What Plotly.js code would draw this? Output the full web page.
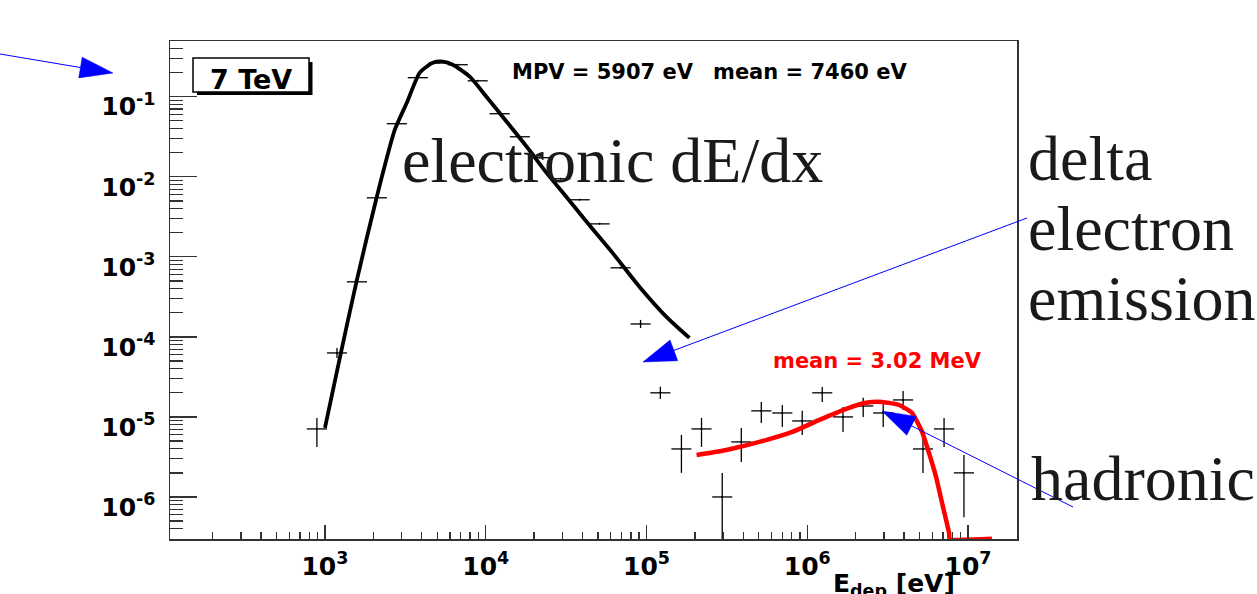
<!DOCTYPE html>
<html><head><meta charset="utf-8">
<script src="https://cdn.plot.ly/plotly-3.0.1.min.js"></script>
<style>html,body{margin:0;padding:0;background:#fff;} #chart{width:1257px;height:594px;}</style>
</head><body><div id="chart"></div>
<script>
// ---------- data ----------
const binCenters = [891, 1188, 1581, 2104, 2800, 3781, 5105, 6700, 8913, 12200, 16300, 21600, 29200, 38400, 51100, 69000, 91900, 122000, 165000, 220000, 296000, 389000, 518000, 700000, 931000, 1240000, 1670000, 2230000, 2970000, 3950000, 5250000, 7100000, 9440000];
const binCounts = [7.08e-6, 6.3e-5, 4.87e-4, 5.46e-3, 0.046, 0.173, 0.266, 0.251, 0.158, 0.0613, 0.0316, 0.0173, 9.44e-3, 5.16e-3, 2.58e-3, 7.29e-4, 1.45e-4, 2.0e-5, 3.98e-6, 7.08e-6, 1.0e-6, 4.87e-6, 1.19e-5, 1.12e-5, 8.9e-6, 2.0e-5, 1.0e-5, 1.37e-5, 1.12e-5, 1.63e-5, 3.98e-6, 7.08e-6, 2.0e-6];
const errUp = [2.63e-6, 9.8e-6, 4.4e-5, 0, 0, 0, 0, 0, 0, 0, 0, 0, 0, 0, 0, 0, 1.8e-5, 3.8e-6, 1.98e-6, 2.63e-6, 1.0e-6, 2.42e-6, 3.5e-6, 2.9e-6, 3.0e-6, 3.7e-6, 3.3e-6, 3.6e-6, 3.8e-6, 4.8e-6, 1.98e-6, 2.63e-6, 1.35e-6];
const errDown = [2.86e-6, 8.4e-6, 4.0e-5, 0, 0, 0, 0, 0, 0, 0, 0, 0, 0, 0, 0, 0, 1.6e-5, 3.2e-6, 1.98e-6, 2.86e-6, 0.99e-6, 2.13e-6, 3.5e-6, 3.7e-6, 2.94e-6, 4.6e-6, 3.5e-6, 3.7e-6, 3.7e-6, 4.1e-6, 1.98e-6, 2.86e-6, 1.44e-6];
const binWidthDecades = 0.125;

const landauX = [1000, 1240, 1580, 2100, 2720, 3230, 3890, 4690, 5410, 6240, 7960, 10100, 13500, 18000, 23900, 31800, 42400, 61500, 90600, 133000, 185000];
const landauY = [7.3e-6, 5.6e-5, 5.16e-4, 5.6e-3, 0.0387, 0.0841, 0.2, 0.266, 0.274, 0.251, 0.178, 0.1, 0.0487, 0.0237, 0.0112, 5.6e-3, 2.74e-3, 1.12e-3, 4.2e-4, 1.78e-4, 9.7e-5];

const hadX = [205000, 314000, 504000, 807000, 1190000, 1750000, 2320000, 2920000, 3730000, 4490000, 5180000, 5720000, 6330000, 6900000, 7630000, 7700000, 14100000];
const hadY = [3.35e-6, 3.87e-6, 4.87e-6, 6.49e-6, 9.17e-6, 1.26e-5, 1.5e-5, 1.54e-5, 1.41e-5, 1.12e-5, 6.49e-6, 3.55e-6, 1.78e-6, 8.4e-7, 3.55e-7, 3.0e-7, 3.0e-7];

const xTickVals = [1e3, 1e4, 1e5, 1e6, 1e7];
const xTickText = ['10<sup>3</sup>', '10<sup>4</sup>', '10<sup>5</sup>', '10<sup>6</sup>', '10<sup>7</sup>'];
const yTickVals = [1e-6, 1e-5, 1e-4, 1e-3, 1e-2, 1e-1];
const yTickText = ['10<sup>-6</sup>', '10<sup>-5</sup>', '10<sup>-4</sup>', '10<sup>-3</sup>', '10<sup>-2</sup>', '10<sup>-1</sup>'];

// ---------- helpers ----------
function minorTicks(lo, hi) {
  const out = [];
  for (let e = Math.floor(lo); e <= Math.ceil(hi); e++)
    for (let k = 2; k <= 9; k++) { const v = k * Math.pow(10, e); const l = Math.log10(v); if (l > lo && l < hi) out.push(v); }
  return out;
}
const XR = [2.036, 7.305], YR = [-6.525, -0.304];
const PL = 170, PR = 1017, PT = 41, PB = 539;
const px = p => (p - PL) / (PR - PL);
const py = p => (PB - p) / (PB - PT);

const f = Math.pow(10, binWidthDecades / 2);
const exPlus = binCenters.map(v => v * (f - 1));
const exMinus = binCenters.map(v => v * (1 - 1 / f));

const traces = [
  { x: binCenters, y: binCounts, type: 'scatter', mode: 'markers',
    marker: { size: 2, color: '#000' },
    error_x: { type: 'data', symmetric: false, array: exPlus, arrayminus: exMinus, color: '#000', thickness: 1.3, width: 0 },
    error_y: { type: 'data', symmetric: false, array: errUp, arrayminus: errDown, color: '#000', thickness: 1.3, width: 0 },
    hoverinfo: 'skip' },
  { x: landauX, y: landauY, type: 'scatter', mode: 'lines',
    line: { color: '#000', width: 3.8, shape: 'spline', smoothing: 0.6 }, hoverinfo: 'skip' },
  { x: hadX, y: hadY, type: 'scatter', mode: 'lines',
    line: { color: '#ff0000', width: 4.5, shape: 'spline', smoothing: 0.5 }, hoverinfo: 'skip' }
];

// arrows as shapes (pixel -> paper)
function arrowShapes(x0, y0, x1, y1, len, hw, col) {
  const dx = x1 - x0, dy = y1 - y0, d = Math.hypot(dx, dy), ux = dx / d, uy = dy / d;
  const bx = x1 - ux * len, by = y1 - uy * len, nx = -uy, ny = ux;
  const pts = [[x1, y1], [bx + nx * hw, by + ny * hw], [bx - nx * hw, by - ny * hw]];
  const path = 'M' + pts.map(p => px(p[0]).toFixed(5) + ',' + py(p[1]).toFixed(5)).join(' L') + ' Z';
  return [
    { type: 'line', xref: 'paper', yref: 'paper', x0: px(x0), y0: py(y0), x1: px(bx + ux * 2), y1: py(by + uy * 2), line: { color: col, width: 1 } },
    { type: 'path', xref: 'paper', yref: 'paper', path: path, fillcolor: col, line: { color: col, width: 0.5 } }
  ];
}
const blue = '#0000ff';
const shapes = [
  { type: 'rect', xref: 'paper', yref: 'paper', x0: px(197), x1: px(312.5), y0: py(62), y1: py(95), fillcolor: '#000', line: { width: 0 } },
  { type: 'rect', xref: 'paper', yref: 'paper', x0: px(193), x1: px(309), y0: py(58), y1: py(92), fillcolor: '#fff', line: { color: '#000', width: 1.5 } },
  ...arrowShapes(0, 54, 113, 73, 33, 10.5, blue),
  ...arrowShapes(1027, 218, 643, 362, 33, 11, blue),
  ...arrowShapes(1073, 507, 882, 411, 33, 10.5, blue)
];

const serif = { family: 'Liberation Serif, Times New Roman, serif', size: 64, color: '#1a1a1a' };
function ann(text, x, y, font, xanchor) {
  return { text: text, xref: 'paper', yref: 'paper', x: px(x), y: py(y), xanchor: xanchor || 'left', yanchor: 'middle', showarrow: false, font: font, borderpad: 0 };
}
const boldSans = (s, c) => ({ family: 'DejaVu Sans', size: s, weight: 'bold', color: c || '#000' });
const annotations = [
  ann('7 TeV', 251, 80, boldSans(27), 'center'),
  ann('MPV = 5907 eV', 511, 72, boldSans(21)),
  ann('mean = 7460 eV', 712, 72, boldSans(21)),
  ann('mean = 3.02 MeV', 772, 361, boldSans(21, '#ff0000')),
  ann('E<sub>dep</sub> [eV]', 832, 585, boldSans(25)),
  ann('electronic dE/dx', 401, 160, serif),
  ann('delta', 1027, 158, serif),
  ann('electron', 1027, 228, serif),
  ann('emission', 1027, 298, serif),
  ann('hadronic', 1030, 478, serif)
];

const axCommon = {
  type: 'log', showgrid: false, zeroline: false, showline: true, mirror: true,
  linecolor: '#333', linewidth: 1.5, ticks: 'inside', tickwidth: 1.3, tickcolor: '#333',
  tickmode: 'array', tickfont: { family: 'DejaVu Sans', size: 25, weight: 'bold', color: '#000' }
};
const layout = {
  width: 1257, height: 594, margin: { l: PL, r: 1257 - PR, t: PT, b: 594 - PB, pad: 0 },
  paper_bgcolor: '#fff', plot_bgcolor: '#fff', showlegend: false,
  font: { family: 'DejaVu Sans', color: '#000' },
  xaxis: Object.assign({}, axCommon, { range: XR, ticklen: 14, tickvals: xTickVals, ticktext: xTickText, ticklabelstandoff: 4,
    minor: { tickmode: 'array', tickvals: minorTicks(XR[0], XR[1]), ticks: 'inside', ticklen: 7, tickwidth: 1.3, tickcolor: '#333', showgrid: false } }),
  yaxis: Object.assign({}, axCommon, { range: YR, ticklen: 27, tickvals: yTickVals, ticktext: yTickText, ticklabelstandoff: 8, ticklabelshift: 10,
    minor: { tickmode: 'array', tickvals: minorTicks(YR[0], YR[1]), ticks: 'inside', ticklen: 13, tickwidth: 1.3, tickcolor: '#333', showgrid: false } }),
  shapes: shapes, annotations: annotations
};
Plotly.newPlot('chart', traces, layout, { displayModeBar: false, staticPlot: true });
</script></body></html>
